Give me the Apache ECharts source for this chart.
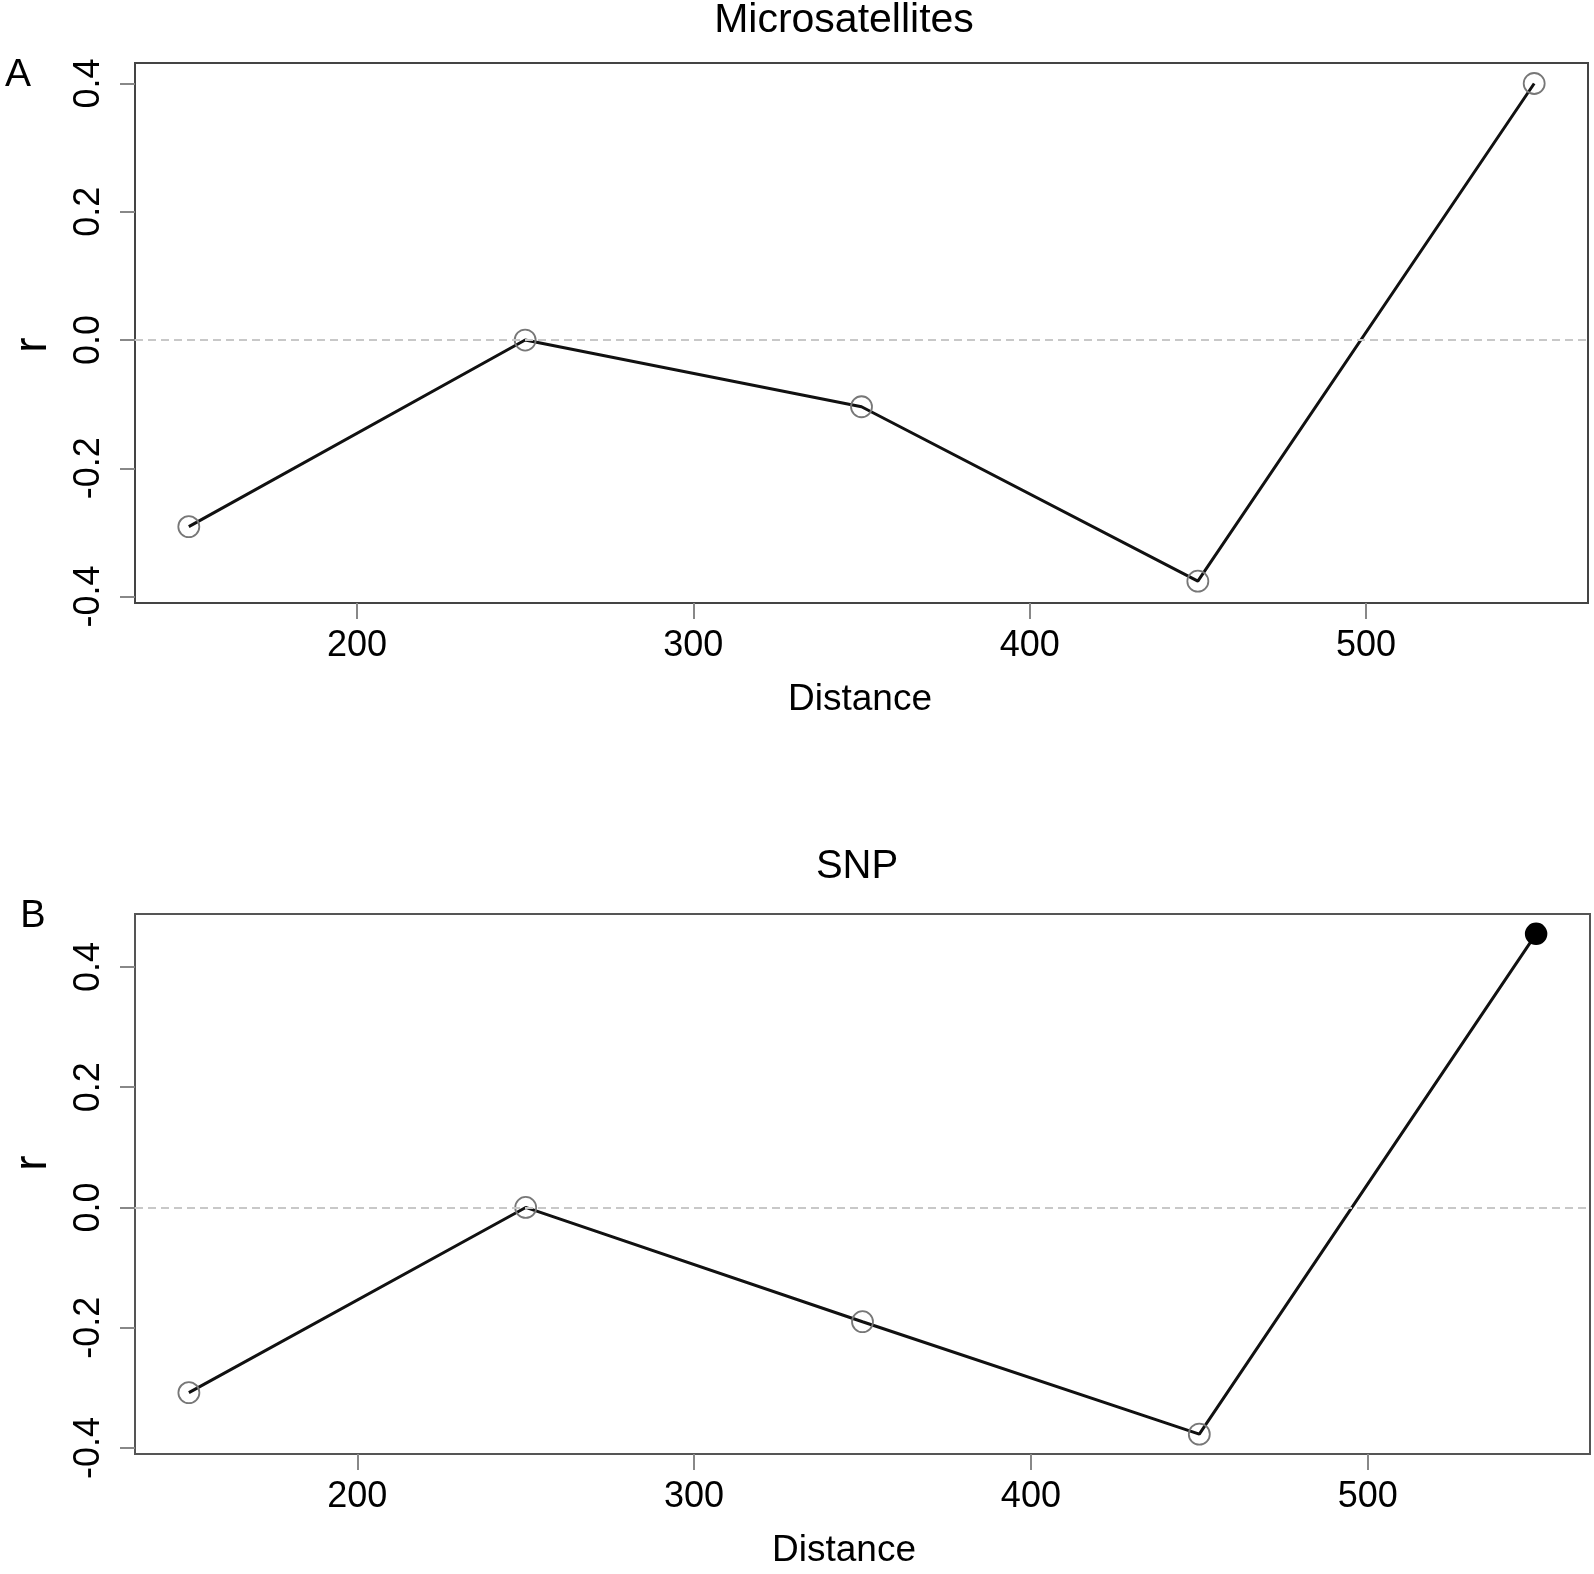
<!DOCTYPE html>
<html>
<head>
<meta charset="utf-8">
<script src="https://cdn.jsdelivr.net/npm/echarts@6/dist/echarts.min.js"></script>
<style>
html,body{margin:0;padding:0;background:#fff;}
#main{width:1594px;height:1574px;}
</style>
</head>
<body>
<div id="main"></div>
<script>
// ---- data ----
var distances = [150, 250, 350, 450, 550];
var microsatR = [-0.291, 0.000, -0.104, -0.376, 0.400];
var snpR = [-0.308, 0.000, -0.190, -0.377, 0.455];
var microsatSignificant = [false, false, false, false, false];
var snpSignificant = [false, false, false, false, true];
var xTicks = [200, 300, 400, 500];
var yTicks = [-0.4, -0.2, 0.0, 0.2, 0.4];
var panelTitles = ['Microsatellites', 'SNP'];
var panelLetters = ['A', 'B'];
var xName = 'Distance';
var yName = 'r';

var FONT = '"Liberation Sans", Arial, Helvetica, sans-serif';

function buildData(xs, ys, sig) {
  return xs.map(function (x, i) {
    var item = { value: [x, ys[i]] };
    if (sig[i]) {
      item.itemStyle = { color: '#000', borderColor: '#000', borderWidth: 1.5 };
    }
    return item;
  });
}

function xAxisCfg(gi) {
  return {
    type: 'value', gridIndex: gi, min: 134, max: 566, position: 'bottom',
    axisLine: { show: false, onZero: false },
    splitLine: { show: false },
    axisTick: { show: true, length: 16, customValues: xTicks, lineStyle: { color: '#888', width: 2 } },
    axisLabel: { customValues: xTicks, margin: 25, fontSize: 36, color: '#000', fontFamily: FONT }
  };
}
function yAxisCfg(gi, mn, mx) {
  return {
    type: 'value', gridIndex: gi, min: mn, max: mx, position: 'left',
    axisLine: { show: false, onZero: false },
    splitLine: { show: false },
    axisTick: { show: true, length: 15, customValues: yTicks, lineStyle: { color: '#888', width: 2 } },
    axisLabel: {
      customValues: yTicks, rotate: 90, margin: 28, fontSize: 36, color: '#000', fontFamily: FONT,
      formatter: function (v) { return Number(v).toFixed(1); }
    }
  };
}
function seriesCfg(gi, data) {
  return {
    type: 'line', xAxisIndex: gi, yAxisIndex: gi,
    data: data,
    symbol: 'circle', symbolSize: 21,
    lineStyle: { color: '#111', width: 3 },
    itemStyle: { color: 'rgba(0,0,0,0)', borderColor: '#777', borderWidth: 1.8 },
    emphasis: { disabled: true },
    animation: false,
    z: 3,
    markLine: {
      silent: true, symbol: 'none', animation: false,
      label: { show: false },
      lineStyle: { color: '#c8c8c8', type: [8, 5], width: 2 },
      data: [{ yAxis: 0 }]
    }
  };
}

var chart = echarts.init(document.getElementById('main'), null, { renderer: 'canvas' });
chart.setOption({
  backgroundColor: '#fff',
  animation: false,
  grid: [
    { left: 135, top: 63, width: 1453, height: 540, show: true, borderColor: '#444', borderWidth: 2, backgroundColor: 'transparent' },
    { left: 135, top: 914, width: 1455, height: 540, show: true, borderColor: '#555', borderWidth: 2, backgroundColor: 'transparent' }
  ],
  xAxis: [xAxisCfg(0), xAxisCfg(1)],
  yAxis: [yAxisCfg(0, -0.41, 0.432), yAxisCfg(1, -0.41, 0.488)],
  series: [
    seriesCfg(0, buildData(distances, microsatR, microsatSignificant)),
    seriesCfg(1, buildData(distances, snpR, snpSignificant))
  ],
  graphic: [
    { type: 'text', x: 844, y: 21, style: { text: panelTitles[0], font: '41px ' + FONT, fill: '#000', textAlign: 'center', textVerticalAlign: 'middle' } },
    { type: 'text', x: 857, y: 867, style: { text: panelTitles[1], font: '40px ' + FONT, fill: '#000', textAlign: 'center', textVerticalAlign: 'middle' } },
    { type: 'text', x: 18, y: 75, style: { text: panelLetters[0], font: '39px ' + FONT, fill: '#000', textAlign: 'center', textVerticalAlign: 'middle' } },
    { type: 'text', x: 33, y: 917, style: { text: panelLetters[1], font: '38px ' + FONT, fill: '#000', textAlign: 'center', textVerticalAlign: 'middle' } },
    { type: 'text', x: 860, y: 700, style: { text: xName, font: '37px ' + FONT, fill: '#000', textAlign: 'center', textVerticalAlign: 'middle' } },
    { type: 'text', x: 844, y: 1551, style: { text: xName, font: '37px ' + FONT, fill: '#000', textAlign: 'center', textVerticalAlign: 'middle' } },
    { type: 'text', x: 33, y: 345, rotation: Math.PI / 2, style: { text: yName, font: '46px ' + FONT, fill: '#000', textAlign: 'center', textVerticalAlign: 'middle' } },
    { type: 'text', x: 33, y: 1163, rotation: Math.PI / 2, style: { text: yName, font: '46px ' + FONT, fill: '#000', textAlign: 'center', textVerticalAlign: 'middle' } }
  ]
});
</script>
</body>
</html>
